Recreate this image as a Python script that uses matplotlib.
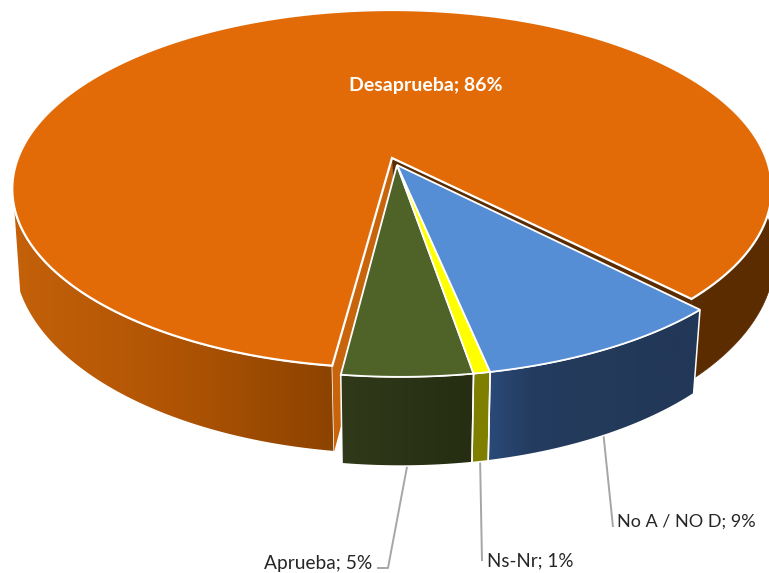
import numpy as np
import matplotlib
matplotlib.use("Agg")
import matplotlib.pyplot as plt
from matplotlib.colors import to_rgb
from matplotlib.patches import Polygon

# ---- data ----
categories = ["Desaprueba", "Aprueba", "Ns-Nr", "No A / NO D"]
values = [85.5, 4.7, 0.6, 9.2]
start_angle = -45.4
top_colors = ["#e26b07", "#4f6228", "#ffff00", "#558ed5"]
side_stops = [["#c4610a", "#b05404", "#8c4300"], ["#303a1a", "#262d12"], ["#7f7f00", "#7f7f00"],
              ["#2a4a78", "#243c60", "#233a5c", "#233a5a", "#223858", "#223858"]]

K = 0.173
ORANGE_TOP = dict(cx=392, cy=158, A=374, B=173.6)
ORANGE_BOT = dict(cx=394, cy=222, A=375, B=192)
GROUP_TOP = dict(cx=400.5, cy=172.5, A=374, B=169)
GROUP_BOT = dict(cx=400.5, cy=246, A=366, B=182)
GROUP_APEX = (397, 165)


def project(theta_deg, m):
    t = np.radians(theta_deg)
    u, v = np.cos(t), np.sin(t)
    w = 1 + K * v
    return np.column_stack([m["cx"] + m["A"] * u / w, m["cy"] - m["B"] * v / w])


def side(ax, top_a, bot_a, end_a, mt, mb, stops, z):
    """Outer wall: gradient image, left to right, clipped to the wall outline."""
    pt = project(np.linspace(top_a, end_a, 200), mt)
    pb = project(np.linspace(bot_a, end_a, 200), mb)
    outline = np.vstack([pt, pb[::-1]])
    cols = np.array([to_rgb(c) for c in stops])
    pos = np.linspace(0, 1, len(cols))
    s = np.linspace(0, 1, 256)
    grad = np.stack([np.interp(s, pos, cols[:, i]) for i in range(3)], axis=-1)[None, :, :]
    x0, x1 = outline[:, 0].min(), outline[:, 0].max()
    y0, y1 = outline[:, 1].min(), outline[:, 1].max()
    im = ax.imshow(grad, extent=[x0, x1, y1, y0], aspect="auto", zorder=z, interpolation="bilinear")
    im.set_clip_path(Polygon(outline, closed=True, transform=ax.transData))
    ax.add_patch(Polygon(outline, closed=True, fc="none", ec="white", lw=1.1, zorder=z + .1))


def top(ax, apex, a0, a1, m, color, z, lw=1.6):
    th = np.linspace(a0, a1, 240)
    p = np.vstack([[apex], project(th, m)])
    ax.add_patch(Polygon(p, closed=True, fc=color, ec="white", lw=lw, joinstyle="miter", zorder=z))


fig = plt.figure(figsize=(7.69, 5.73), dpi=100)
ax = fig.add_axes([0, 0, 1, 1])
ax.axis("off")

spans = np.array(values) / sum(values) * 360
edges = start_angle + np.concatenate([[0], np.cumsum(spans)])

# orange slice: outer wall, cut walls, top
a0, a1 = edges[0], edges[1]
side(ax, 193, 200, a1, ORANGE_TOP, ORANGE_BOT, side_stops[0], 1)
th = np.linspace(a0, 8, 120)
ax.add_patch(Polygon(np.vstack([project(th, ORANGE_TOP), project(th, ORANGE_BOT)[::-1]]),
                     closed=True, fc="#5b2c00", ec="#5b2c00", lw=.5, zorder=1))
apex_t = np.array([ORANGE_TOP["cx"], ORANGE_TOP["cy"]], dtype=float)
apex_b = apex_t + (2, 70)
for ang, col in [(a1, "#c8640c"), (a0, "#5b2c00")]:
    c_t = project(np.array([ang]), ORANGE_TOP)[0]
    c_b = project(np.array([ang]), ORANGE_BOT)[0]
    ax.add_patch(Polygon([apex_t, c_t, c_b, apex_b], closed=True, fc=col, ec="none", zorder=1.5))
top(ax, apex_t, a0, a1, ORANGE_TOP, top_colors[0], 2)

# exploded slices
for i in range(1, 4):
    s, e = edges[i], edges[i + 1]
    side(ax, s, s, e, GROUP_TOP, GROUP_BOT, side_stops[i], 3)
    top(ax, GROUP_APEX, s, e, GROUP_TOP, top_colors[i], 4, lw=1.3)

# labels
label_font = ["Lato", "DejaVu Sans"]
names = [f"{c}; {round(v)}%" for c, v in zip(categories, values)]
ax.text(426, 86, names[0], color="white", weight="bold", fontsize=14, family=label_font,
        ha="center", va="center", zorder=6)
label_pos = {1: (372, 563, "right"), 2: (487, 561, "left"), 3: (617, 522, "left")}
elbows = {1: [(388, 568), (377, 568)], 2: [(482, 561)], 3: [(613, 527)]}
sizes = {1: 13.8, 2: 13.5, 3: 13}
for i, (x, y, ha) in label_pos.items():
    mid = (edges[i] + edges[i + 1]) / 2
    st = project(np.array([mid]), GROUP_BOT)[0]
    pts = np.vstack([st, elbows[i]])
    ax.plot(pts[:, 0], pts[:, 1], color="#a6a6a6", lw=1.4, zorder=2.5, solid_capstyle="butt")
    ax.text(x, y, names[i], color="#262626", fontsize=sizes[i], family=label_font, ha=ha, va="center", zorder=6)

ax.set_xlim(0, 769)
ax.set_ylim(573, 0)
fig.savefig("out.png", dpi=100)
